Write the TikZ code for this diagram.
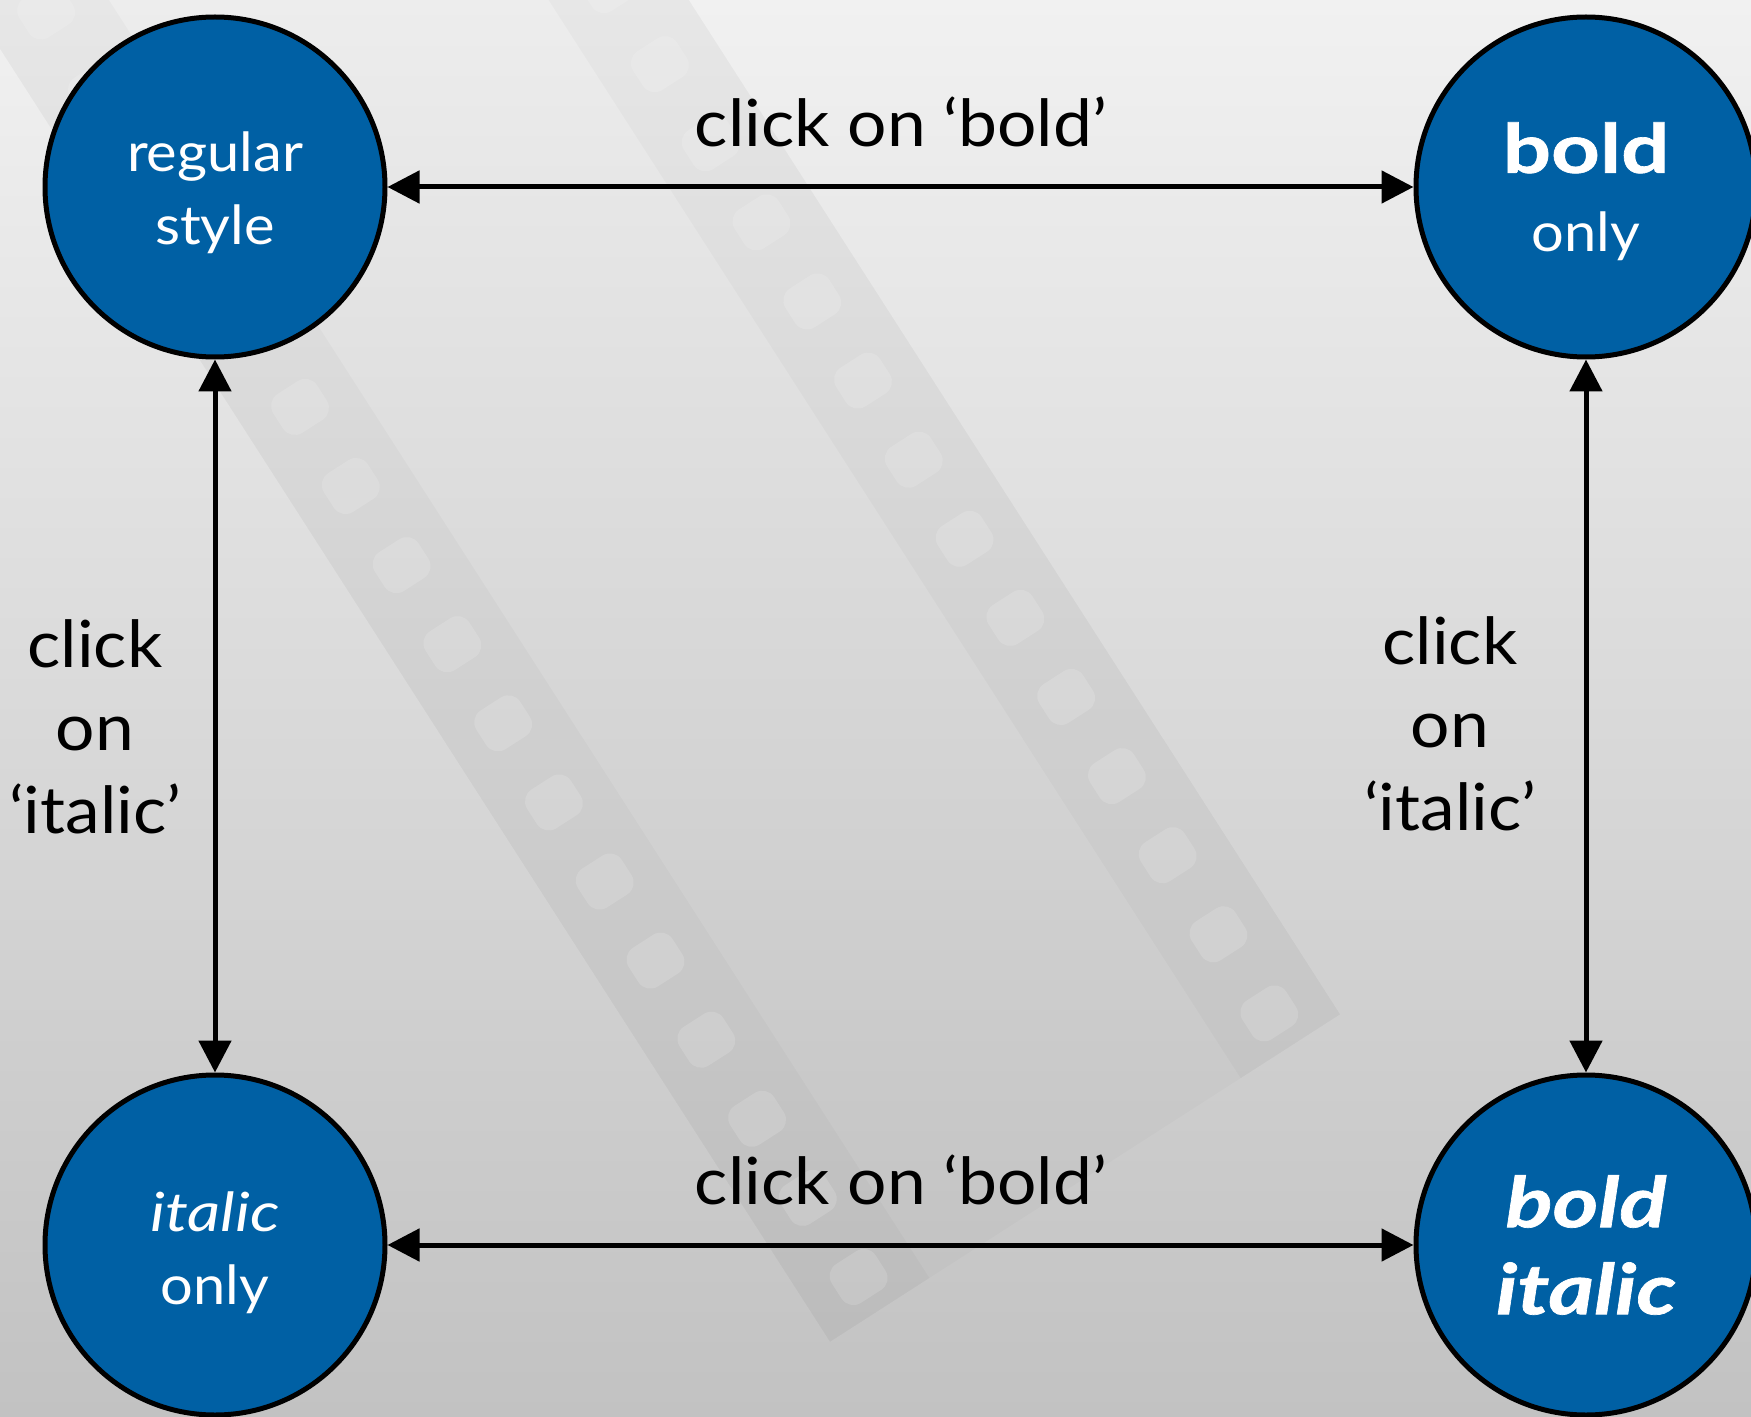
\documentclass[tikz,border=0pt]{standalone}
\usepackage{fontspec}
\setmainfont{Lato}[FakeStretch=1.07]
\newfontfamily\heavyfont{Lato}[FakeStretch=1.25,BoldFeatures={FakeBold=1},BoldItalicFeatures={FakeBold=1}]
\newfontfamily\wideitfont{Lato}[FakeStretch=1.2]
\usetikzlibrary{arrows.meta}
\definecolor{nodeblue}{RGB}{0,96,164}
\definecolor{bgtop}{RGB}{241,241,241}
\definecolor{bgbot}{RGB}{194,194,194}
\begin{document}
\begin{tikzpicture}[x=0.5pt,y=-0.5pt,
  state/.style={circle,draw=black,line width=2.5pt,fill=nodeblue,minimum size=170pt,
    inner sep=0pt,text=white,align=center,font=\fontsize{27}{36.5}\selectfont},
  conn/.style={line width=2.5pt,{Triangle[length=16pt,width=16pt]}-{Triangle[length=16pt,width=16pt]}},
  lab/.style={font=\fontsize{32.5}{41.5}\selectfont,align=center,inner sep=0pt},
  stripband/.style={fill=black,fill opacity=0.016,draw=none},
  stripmargin/.style={fill=black,fill opacity=0.024,draw=none},
  sprocket/.style={fill=white,fill opacity=0.15,draw=none,rounded corners=7pt}]
\useasboundingbox (0,0) rectangle (1751,1417);
\clip (0,0) rectangle (1751,1417);
\shade[top color=bgtop,bottom color=bgbot] (0,0) rectangle (1751,1417);
% faint film strip in the background
\begin{scope}[shift={(1085,1178)},rotate=-57.3]
  \fill[stripband] (-1900,-303) rectangle (0,303);
  \fill[stripmargin] (-1900,-303) rectangle (0,-185);
  \fill[stripmargin] (-1900,185) rectangle (0,303);
  \foreach \k in {0,...,19}{
    \fill[sprocket] (-62-94*\k,-270) rectangle (-16-94*\k,-218);
    \fill[sprocket] (-62-94*\k,218) rectangle (-16-94*\k,270);
  }
\end{scope}
% nodes
\node[state] (rs) at (215,187) {\rule{0pt}{26pt}regular\\style};
\node[state,font=\fontsize{27}{39.5}\selectfont] (bo) at (1586,187) {\rule{0pt}{30pt}{\heavyfont\fontsize{34}{39.5}\selectfont\bfseries bold}\\only};
\node[state] (io) at (215,1245) {\rule{0pt}{28pt}{\wideitfont\itshape italic}\\only};
\node[state,font=\heavyfont\fontsize{35}{43.5}\selectfont\bfseries\itshape] (bi) at (1586,1245) {bold\\italic};
% labels
\node[lab] (lt) at (901,122) {click on ‘bold’};
\node[lab] (lb) at (901,1180) {click on ‘bold’};
\node[lab] (ll) at (95,727) {click\\on\\‘italic’};
\node[lab] (lr) at (1450,724) {click\\on\\‘italic’};
% connectors
\draw[conn] (rs) -- (bo);
\draw[conn] (io) -- (bi);
\draw[conn] (rs) -- (io);
\draw[conn] (bo) -- (bi);
\end{tikzpicture}
\end{document}
